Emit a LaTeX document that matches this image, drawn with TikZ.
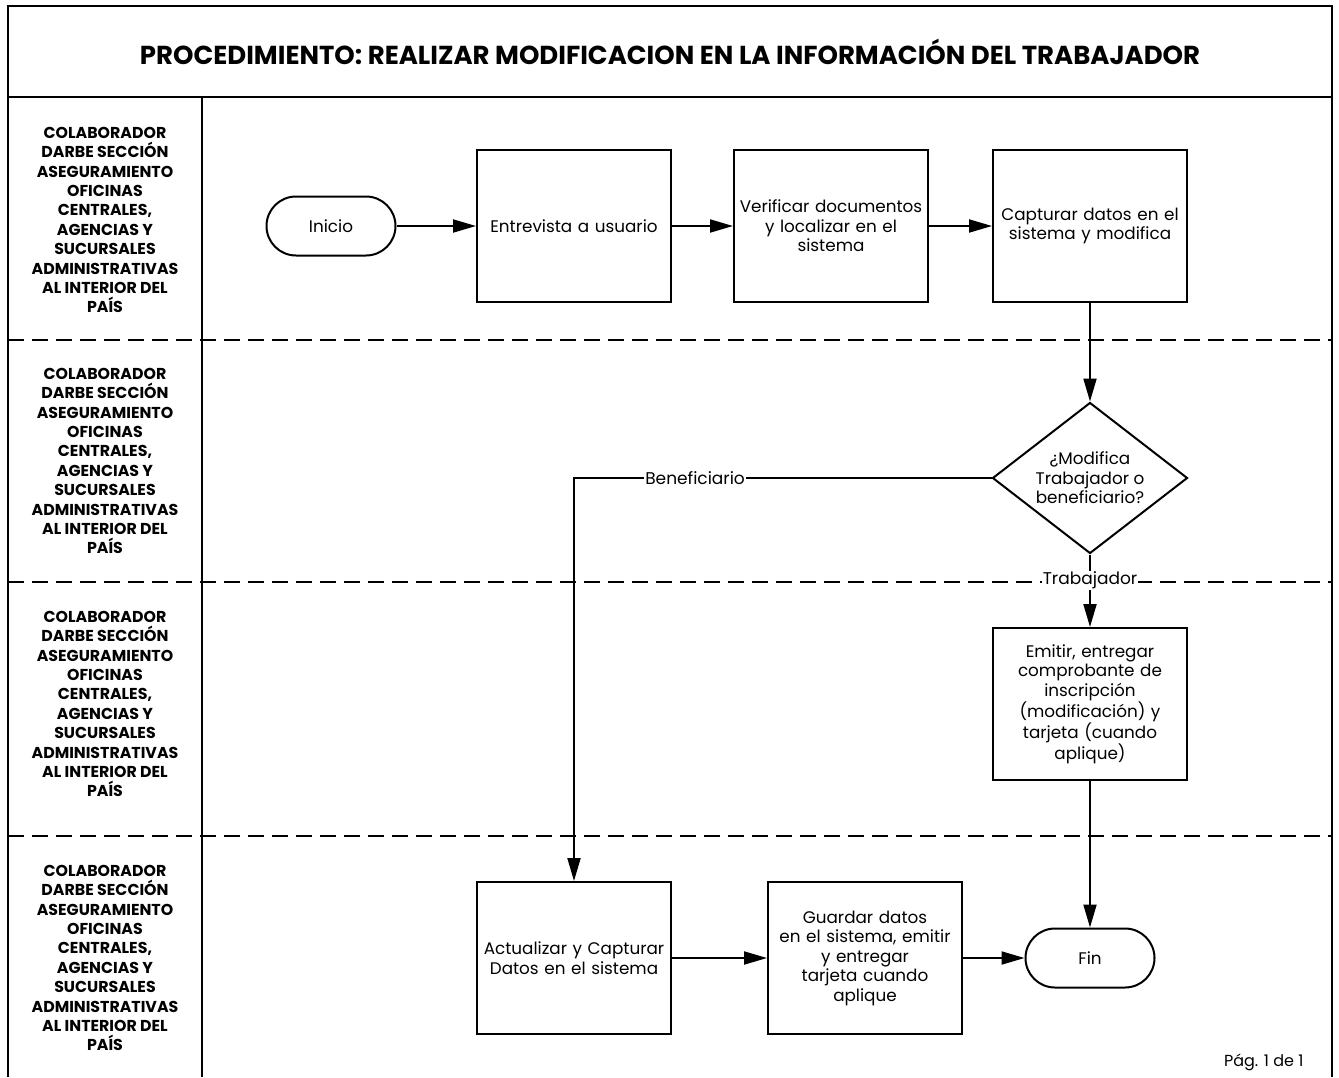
\documentclass[tikz,border=0pt]{standalone}
\usepackage{fontspec}
\setmainfont{Poppins}
\usetikzlibrary{arrows.meta,shapes.geometric}

\tikzset{
  frame/.style={line width=1.3pt},
  lanesep/.style={line width=1.3pt, dash pattern=on 16pt off 8pt},
  bodyfont/.style={font=\fontsize{16.8}{19.5}\selectfont},
  stepbox/.style={draw, line width=2pt, minimum width=194pt, minimum height=152pt,
    text width=192pt, align=center, inner sep=0pt, bodyfont},
  terminal/.style={draw, line width=2pt, rounded corners=29.5pt, minimum width=129pt,
    minimum height=59pt, inner sep=0pt, bodyfont},
  decision/.style={draw, diamond, line width=2pt, minimum width=195pt,
    minimum height=151pt, inner sep=0pt},
  lanetitle/.style={align=center, font=\bfseries\fontsize{15.8}{19.4}\selectfont},
  flow/.style={line width=2pt, -{Triangle[length=23pt,width=13pt]}},
  edgelabel/.style={fill=white, inner sep=1pt, font=\fontsize{17}{19}\selectfont},
}

\begin{document}
\begin{tikzpicture}[x=1pt, y=-1pt]
\useasboundingbox (0,0) rectangle (1339,1077);

% outer frame and title band
\draw[frame] (8,1077) -- (8,6) -- (1332,6) -- (1332,1077);
\draw[line width=2pt] (8,97) -- (1332,97);
\draw[frame] (202,97) -- (202,1077);
\node[font=\bfseries\fontsize{26}{30}\selectfont] (title) at (670,52)
  {PROCEDIMIENTO: REALIZAR MODIFICACION EN LA INFORMACIÓN DEL TRABAJADOR};

% lane separators
\draw[lanesep] (8,340) -- (1332,340);
\draw[lanesep] (8,582) -- (1332,582);
\draw[lanesep] (8,836) -- (1332,836);

% lane titles
\node[lanetitle] (lane1) at (105,220) {COLABORADOR\\DARBE SECCIÓN\\ASEGURAMIENTO\\OFICINAS\\CENTRALES,\\AGENCIAS Y\\SUCURSALES\\ADMINISTRATIVAS\\AL INTERIOR DEL\\PAÍS};
\node[lanetitle] (lane2) at (105,461) {COLABORADOR\\DARBE SECCIÓN\\ASEGURAMIENTO\\OFICINAS\\CENTRALES,\\AGENCIAS Y\\SUCURSALES\\ADMINISTRATIVAS\\AL INTERIOR DEL\\PAÍS};
\node[lanetitle] (lane3) at (105,704) {COLABORADOR\\DARBE SECCIÓN\\ASEGURAMIENTO\\OFICINAS\\CENTRALES,\\AGENCIAS Y\\SUCURSALES\\ADMINISTRATIVAS\\AL INTERIOR DEL\\PAÍS};
\node[lanetitle] (lane4) at (105,958) {COLABORADOR\\DARBE SECCIÓN\\ASEGURAMIENTO\\OFICINAS\\CENTRALES,\\AGENCIAS Y\\SUCURSALES\\ADMINISTRATIVAS\\AL INTERIOR DEL\\PAÍS};

% process steps
\node[terminal] (inicio) at (331,226) {Inicio};
\node[stepbox] (entrevista) at (574,226) {Entrevista a usuario};
\node[stepbox] (verificar) at (831,226) {Verificar documentos\\y localizar en el\\sistema};
\node[stepbox] (capturar) at (1090,226) {Capturar datos en el\\sistema y modifica};
\node[decision] (dec) at (1090,478) {};
\node[align=center, bodyfont] (dectext) at (dec) {¿Modifica\\Trabajador o\\beneficiario?};
\node[stepbox] (emitir) at (1090,704) {Emitir, entregar\\comprobante de\\inscripción\\(modificación) y\\tarjeta (cuando\\aplique)};
\node[stepbox] (actualizar) at (574,958) {Actualizar y Capturar\\Datos en el sistema};
\node[stepbox] (guardar) at (865,958) {Guardar datos\\en el sistema, emitir\\y entregar\\tarjeta cuando\\aplique};
\node[terminal] (fin) at (1090,958) {Fin};

% connectors
\draw[flow] (inicio) -- (entrevista);
\draw[flow] (entrevista) -- (verificar);
\draw[flow] (verificar) -- (capturar);
\draw[flow] (capturar) -- (dec);
\draw[flow] (dec.south) -- node[edgelabel, pos=0.36] {Trabajador} (emitir.north);
\draw[flow] (dec.west) -| node[edgelabel, pos=0.355] {Beneficiario} (actualizar.north);
\draw[flow] (emitir) -- (fin);
\draw[flow] (actualizar) -- (guardar);
\draw[flow] (guardar) -- (fin);

% page number
\node[anchor=east, font=\fontsize{16}{18}\selectfont] (pag) at (1307,1062) {Pág. 1 de 1};
\end{tikzpicture}
\end{document}
